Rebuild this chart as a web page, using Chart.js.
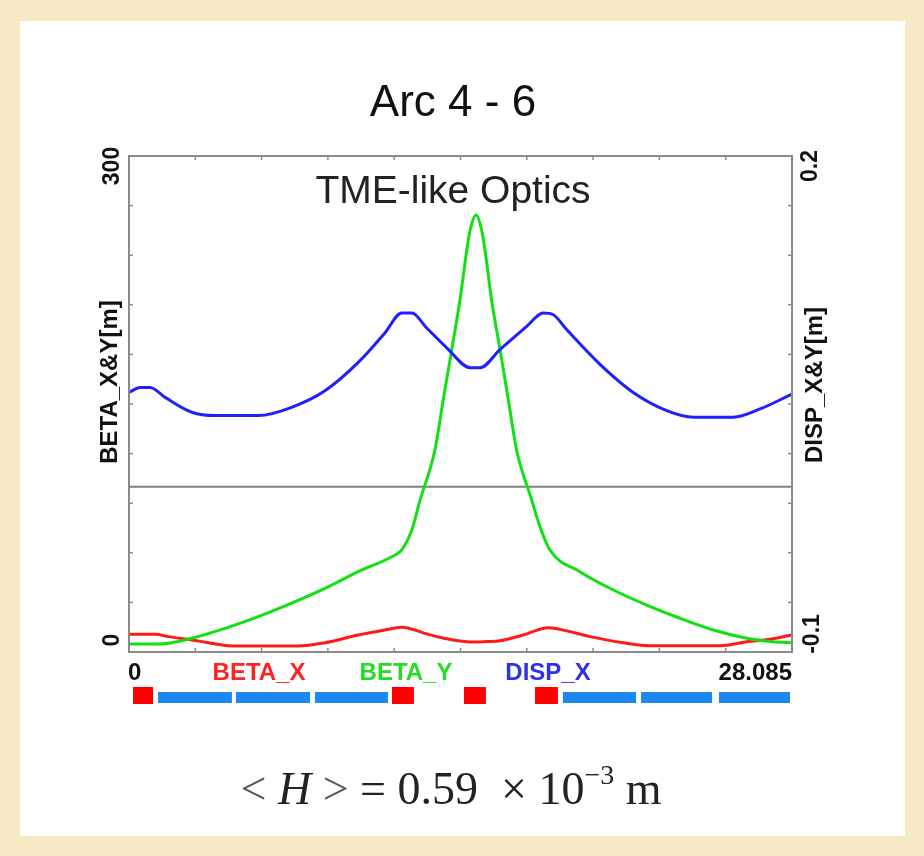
<!DOCTYPE html>
<html><head><meta charset="utf-8">
<script src="https://cdn.jsdelivr.net/npm/chart.js@4.4.1/dist/chart.umd.min.js"></script>
<style>
html,body{margin:0;padding:0;}
body{width:924px;height:856px;background:#f8e9c6;position:relative;overflow:hidden;}
#panel{position:absolute;left:20px;top:21px;width:885px;height:815px;background:#fff;}
#c{position:absolute;left:0;top:0;}
#formula{position:absolute;left:0;width:902px;text-align:center;top:766px;font-family:"Liberation Serif","Times New Roman",serif;font-size:46px;line-height:46px;color:#222;white-space:pre;}
#formula .sup{font-size:28px;position:relative;top:-20px;}
#formula .sym{color:#555;}
</style></head><body>
<div id="panel"></div>
<canvas id="c" width="924" height="856"></canvas>
<div id="formula"><span class="sym">&lt;</span> <i>H</i> <span class="sym">&gt;</span> = 0.59  × 10<span class="sup">−3</span> m</div>
<script>
// ---- data (s in metres) ----
const sMax = 28.085;
const sBetaX = [0, 1.10, 1.67, 2.66, 3.36, 4.21, 5.48, 7.17, 8.30, 9.71, 10.84, 11.55, 12.12, 12.54, 13.39, 14.31, 14.70, 15.15, 15.72, 16.70, 17.76, 18.26, 19.53, 20.94, 22.07, 25.03, 26.17, 27.15, 28.085];
const betaX  = [10.7, 10.7, 9.3, 7.3, 5.6, 3.8, 3.6, 3.6, 5.6, 10.3, 13.3, 14.9, 13.3, 11.3, 8.2, 6.2, 6.0, 6.3, 6.8, 10.3, 14.7, 13.7, 9.3, 5.6, 3.8, 3.8, 6.2, 7.7, 10.3];
const sBetaY = [0, 1.24, 2.66, 4.07, 5.48, 6.89, 8.30, 9.71, 11.13, 11.55, 11.98, 12.33, 12.96, 13.31, 13.67, 14.02, 14.31, 14.45, 14.70, 14.94, 15.08, 15.36, 15.72, 16.07, 16.42, 17.06, 17.41, 17.83, 19.10, 20.52, 21.93, 23.34, 24.76, 26.17, 27.29, 28.085];
const betaY  = [4.8, 4.8, 8.3, 14.3, 21.4, 29.5, 38.5, 48.6, 57.6, 61.7, 73.8, 91.9, 122.2, 152.4, 182.6, 212.9, 243.1, 255.2, 264.3, 255.2, 243.1, 212.9, 182.6, 152.4, 122.2, 91.9, 75.8, 61.7, 48.6, 37.5, 28.4, 20.4, 13.3, 8.3, 6.2, 5.6];
const sDispX = [0, 0.47, 0.89, 1.53, 2.66, 3.64, 5.48, 6.89, 8.30, 9.70, 10.84, 11.55, 11.98, 12.61, 13.46, 14.45, 14.87, 15.72, 16.85, 17.55, 17.97, 18.54, 19.95, 21.36, 22.78, 23.91, 25.60, 26.73, 28.085];
const dispX  = [0.057, 0.060, 0.060, 0.054, 0.045, 0.043, 0.043, 0.048, 0.058, 0.075, 0.093, 0.105, 0.105, 0.096, 0.084, 0.072, 0.072, 0.083, 0.097, 0.105, 0.104, 0.095, 0.074, 0.057, 0.046, 0.042, 0.042, 0.047, 0.056];
// lattice elements
const elemStart = [0.17, 1.23, 4.53, 7.88, 11.14, 14.19, 17.20, 18.38, 21.69, 24.99];
const elemEnd   = [1.02, 4.36, 7.67, 10.97, 12.07, 15.12, 18.17, 21.48, 24.70, 28.00];
const elemKind  = ['quad','bend','bend','bend','quad','quad','quad','bend','bend','bend'];
// axis ticks / labels
const yTickVals = [30, 60, 90, 120, 150, 180, 210, 240, 270];
const xTickCount = 10;
const seriesNames = ['BETA_X', 'BETA_Y', 'DISP_X'];
const chartTitle = 'Arc 4 - 6';
const plotCaption = 'TME-like Optics';

const toXY = (xs, ys) => xs.map((s, i) => ({x: s, y: ys[i]}));
const F = '"Liberation Sans", Arial, sans-serif';

const decor = {
  id: 'decor',
  afterDatasetsDraw(chart) {
    const {ctx, chartArea: a, scales: {x, y, y2}} = chart;
    ctx.save();
    // frame
    ctx.strokeStyle = '#8a8a8a'; ctx.lineWidth = 2;
    ctx.strokeRect(a.left, a.top, a.right - a.left, a.bottom - a.top);
    // ticks
    ctx.lineWidth = 1.5;
    const seg = (x1, y1, x2, y2_) => { ctx.beginPath(); ctx.moveTo(x1, y1); ctx.lineTo(x2, y2_); ctx.stroke(); };
    for (const v of yTickVals) {
      const py = y.getPixelForValue(v);
      seg(a.left, py, a.left + 4, py);
      seg(a.right - 4, py, a.right, py);
    }
    for (let i = 1; i < xTickCount; i++) {
      const px = x.getPixelForValue(sMax * i / xTickCount);
      seg(px, a.top, px, a.top + 4);
      seg(px, a.bottom - 4, px, a.bottom);
    }
    // rotated labels
    ctx.fillStyle = '#111';
    const rot = (txt, cx, cy, font) => {
      ctx.save(); ctx.translate(cx, cy); ctx.rotate(-Math.PI / 2);
      ctx.font = font; ctx.textAlign = 'center'; ctx.textBaseline = 'middle';
      ctx.fillText(txt, 0, 0); ctx.restore();
    };
    const bf = 'bold 23px ' + F;
    rot('300', a.left - 16, y.getPixelForValue(300) + 10, bf);
    rot('0', a.left - 16, y.getPixelForValue(0) - 12, bf);
    rot('0.2', a.right + 19, y2.getPixelForValue(0.2) + 10, bf);
    rot('-0.1', a.right + 21, y2.getPixelForValue(-0.1) - 18, bf);
    rot('BETA_X&Y[m]', a.left - 19, 382, 'bold 24px ' + F);
    rot('DISP_X&Y[m]', a.right + 23, 385, 'bold 24px ' + F);
    // x labels
    ctx.font = 'bold 24px ' + F; ctx.textBaseline = 'middle';
    ctx.textAlign = 'left'; ctx.fillText('0', x.getPixelForValue(0) - 1, 673);
    ctx.textAlign = 'right'; ctx.fillText(String(sMax), x.getPixelForValue(sMax), 673);
    // series names
    ctx.textAlign = 'center';
    const nameCol = ['#ff2222', '#22dd22', '#3030e8'];
    const nameX = [259, 406, 548];
    seriesNames.forEach((n, i) => { ctx.fillStyle = nameCol[i]; ctx.fillText(n, nameX[i], 673); });
    // title and plot caption
    ctx.fillStyle = '#111'; ctx.font = '44px ' + F;
    ctx.fillText(chartTitle, 453, 104);
    ctx.fillStyle = '#222'; ctx.font = '39px ' + F;
    ctx.fillText(plotCaption, 453, 192);
    // lattice elements
    elemStart.forEach((s0, i) => {
      const x0 = x.getPixelForValue(s0), x1 = x.getPixelForValue(elemEnd[i]);
      if (elemKind[i] === 'quad') { ctx.fillStyle = '#ff0000'; ctx.fillRect(x0, 687, x1 - x0, 17); }
      else { ctx.fillStyle = '#1e88f2'; ctx.fillRect(x0, 692, x1 - x0, 11); }
    });
    ctx.restore();
  }
};

new Chart(document.getElementById('c'), {
  type: 'line',
  data: {
    datasets: [
      {label: 'DISP_X', data: toXY(sDispX, dispX), yAxisID: 'y2', borderColor: '#2020ff', borderWidth: 3, pointRadius: 0, cubicInterpolationMode: 'monotone'},
      {label: 'BETA_Y', data: toXY(sBetaY, betaY), yAxisID: 'y', borderColor: '#12e012', borderWidth: 3, pointRadius: 0, cubicInterpolationMode: 'monotone'},
      {label: 'BETA_X', data: toXY(sBetaX, betaX), yAxisID: 'y', borderColor: '#ff1a1a', borderWidth: 3, pointRadius: 0, cubicInterpolationMode: 'monotone'},
      {label: 'zero', data: [{x: 0, y: 0}, {x: sMax, y: 0}], yAxisID: 'y2', borderColor: '#7f7f7f', borderWidth: 2, pointRadius: 0}
    ]
  },
  options: {
    responsive: false, animation: false, devicePixelRatio: 1,
    layout: {padding: {left: 129, right: 132, top: 156, bottom: 204}},
    plugins: {
      legend: {display: false}, tooltip: {enabled: false}, title: {display: false}
    },
    scales: {
      x: {type: 'linear', min: 0, max: sMax, display: false},
      y: {type: 'linear', min: 0, max: 300, display: false},
      y2: {type: 'linear', min: -0.1, max: 0.2, display: false, position: 'right'}
    }
  },
  plugins: [decor]
});
</script>
</body></html>
